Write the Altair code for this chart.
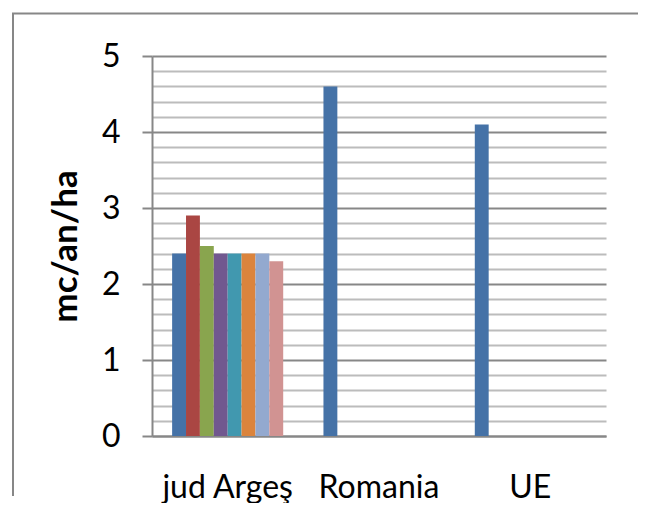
import altair as alt
import pandas as pd

categories = ["jud Argeş", "Romania", "UE"]
series = ["Seria 1", "Seria 2", "Seria 3", "Seria 4", "Seria 5", "Seria 6", "Seria 7", "Seria 8"]
arges_values = [2.4, 2.9, 2.5, 2.4, 2.4, 2.4, 2.4, 2.3]
romania_values = [4.6]
ue_values = [4.1]
colors = ["#4572A7", "#AA4643", "#89A54E", "#71588F", "#4198AF", "#DB843D", "#93A9CF", "#D19392"]
y_ticks = [0, 0.2, 0.4, 0.6, 0.8, 1, 1.2, 1.4, 1.6, 1.8, 2, 2.2, 2.4, 2.6, 2.8,
           3, 3.2, 3.4, 3.6, 3.8, 4, 4.2, 4.4, 4.6, 4.8, 5]

rows = []
for cat, vals in zip(categories, [arges_values, romania_values, ue_values]):
    for s, v in zip(series, vals):
        rows.append({"categorie": cat, "serie": s, "valoare": v})
df = pd.DataFrame(rows)

major = "datum.value % 1 === 0"

bars = alt.Chart(df).mark_bar().encode(
    x=alt.X(
        "categorie:N",
        sort=categories,
        scale=alt.Scale(domain=categories, paddingInner=0.266, paddingOuter=0.133),
        axis=alt.Axis(
            title=None, labelAngle=0, ticks=False, grid=False,
            labelFont="Lato", labelFontSize=32, labelColor="black", labelPadding=36,
            domainColor="#878787", domainWidth=2,
        ),
    ),
    xOffset=alt.XOffset(
        "serie:N", sort=series,
        scale=alt.Scale(domain=series, paddingInner=0, paddingOuter=0),
    ),
    y=alt.Y(
        "valoare:Q",
        scale=alt.Scale(domain=[0, 5], nice=False),
        axis=alt.Axis(
            title="mc/an/ha", values=y_ticks, grid=True,
            gridColor={"condition": {"test": major, "value": "#878787"}, "value": "#bcbcbc"},
            gridWidth=2,
            tickColor="#878787", tickWidth=2, tickSize=10,
            tickOpacity={"condition": {"test": major, "value": 1}, "value": 0},
            labelExpr="datum.value % 1 === 0 ? format(datum.value, 'd') : ''",
            labelOverlap=False,
            labelFont="Lato", labelFontSize=32, labelColor="black", labelPadding=22,
            domainColor="#878787", domainWidth=2,
            titleFont="Lato", titleFontSize=35, titleFontWeight="bold", titleColor="black",
            titleAngle=270, titleX=-76, titleY=190, titleAlign="center",
            titleBaseline="alphabetic",
        ),
    ),
    color=alt.Color("serie:N", scale=alt.Scale(domain=series, range=colors), legend=None),
)

# chart-area frame (top and left edges only; the rest lies outside the picture)
frame = pd.DataFrame({"px": [-139, -139, 486], "py": [440, -42.5, -42.5], "o": [0, 1, 2]})
border = alt.Chart(frame).mark_line(color="#878787", strokeWidth=2).encode(
    x=alt.X("px:Q", scale=None),
    y=alt.Y("py:Q", scale=None),
    order="o:O",
)

chart = alt.layer(border, bars).properties(
    width=454, height=380,
    autosize=alt.AutoSizeParams(type="none"),
    padding={"left": 144, "top": 48, "right": 42, "bottom": 67},
    background="white",
).configure_view(strokeWidth=0)

chart.save("out.html", embed_options={"renderer": "svg", "actions": False})
